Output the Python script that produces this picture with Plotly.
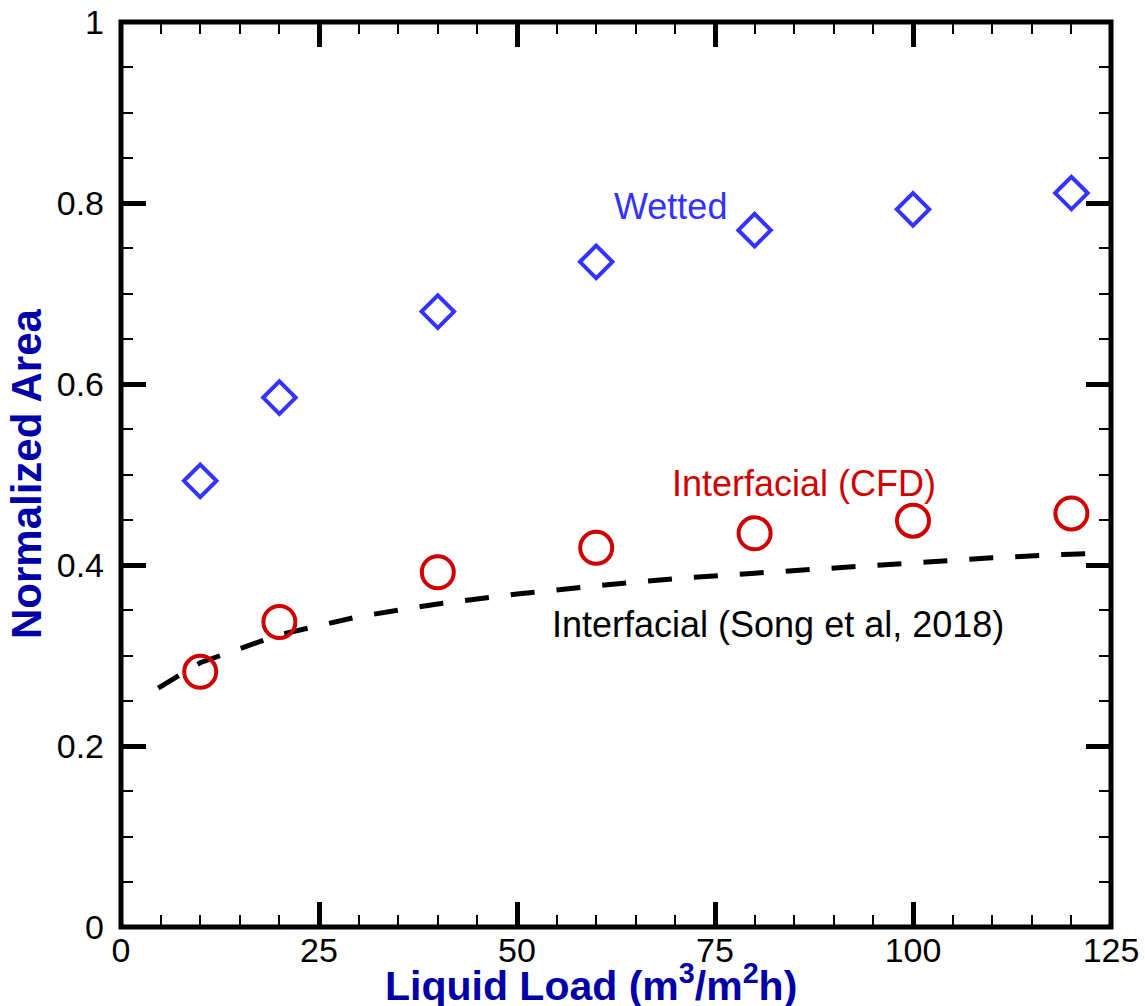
import plotly.graph_objects as go

# Data
liquid_load = [10, 20, 40, 60, 80, 100, 120]
wetted_area = [0.493, 0.585, 0.680, 0.735, 0.770, 0.793, 0.811]
interfacial_cfd = [0.282, 0.337, 0.392, 0.419, 0.435, 0.449, 0.457]

song_x = [4.7, 10, 20, 30, 40, 50, 60, 70, 80, 90, 100, 110, 120, 124.5]
song_y = [0.264, 0.292, 0.323, 0.343, 0.357, 0.368, 0.377, 0.385, 0.391, 0.397, 0.403, 0.408, 0.412, 0.413]

x_ticks = [0, 25, 50, 75, 100, 125]
y_ticks = [0, 0.2, 0.4, 0.6, 0.8, 1]
y_tick_text = ["0", "0.2", "0.4", "0.6", "0.8", "1"]

FONT = "Liberation Sans, Arial, sans-serif"
BLUE = "#3333FF"
RED = "#D00000"
TITLE = "#0000A8"

fig = go.Figure()

fig.add_trace(go.Scatter(
    x=song_x, y=song_y, mode="lines",
    line=dict(color="black", width=5, dash="24px,22px"),
    showlegend=False, hoverinfo="skip"))

fig.add_trace(go.Scatter(
    x=liquid_load, y=wetted_area, mode="markers",
    marker=dict(symbol="diamond-open", size=25, color=BLUE,
                line=dict(color=BLUE, width=4)),
    showlegend=False))

fig.add_trace(go.Scatter(
    x=liquid_load, y=interfacial_cfd, mode="markers",
    marker=dict(symbol="circle-open", size=32, color=RED,
                line=dict(color=RED, width=4)),
    showlegend=False))

W, H = 1145, 1006
L, T = 121, 22
R = W - 1111
B = H - 927

axis_common = dict(
    showgrid=False, zeroline=False, showline=False,
    ticks="inside", ticklen=25, tickwidth=5, tickcolor="black",
    mirror="ticks", ticklabeloverflow="allow",
    tickfont=dict(family=FONT, size=34, color="black"),
)

fig.update_xaxes(
    range=[0, 125], tickvals=x_ticks, ticktext=[str(v) for v in x_ticks],
    minor=dict(dtick=5, tick0=0, ticks="inside", ticklen=12, tickwidth=1.5, tickcolor="black"),
    **axis_common)
fig.update_yaxes(
    range=[0, 1], tickvals=y_ticks, ticktext=y_tick_text,
    ticklabelstandoff=16,
    minor=dict(dtick=0.05, tick0=0, ticks="inside", ticklen=12, tickwidth=1.5, tickcolor="black"),
    **axis_common)

pw = W - L - R
ph = H - T - B

def px_x(p):
    return (p - L) / pw

def px_y(p):
    return (H - B - p) / ph

annotations = [
    dict(text="Wetted", x=px_x(670), y=px_y(206), font=dict(family=FONT, size=36, color=BLUE)),
    dict(text="Interfacial (CFD)", x=px_x(804), y=px_y(483), font=dict(family=FONT, size=36, color=RED)),
    dict(text="Interfacial (Song et al, 2018)", x=px_x(778), y=px_y(624), font=dict(family=FONT, size=36, color="black")),
    dict(text="<b>Liquid Load (m<sup>3</sup>/m<sup>2</sup>h)</b>", x=px_x(591), y=px_y(983),
         font=dict(family=FONT, size=41, color=TITLE)),
    dict(text="<b>Normalized Area</b>", x=px_x(26), y=px_y(474), textangle=-90,
         font=dict(family=FONT, size=42, color=TITLE)),
]
for a in annotations:
    a.update(xref="paper", yref="paper", showarrow=False, xanchor="center", yanchor="middle")

fig.update_layout(
    width=W, height=H,
    margin=dict(l=L, r=R, t=T, b=B, autoexpand=False),
    paper_bgcolor="white", plot_bgcolor="white",
    annotations=annotations,
    shapes=[dict(type="rect", xref="paper", yref="paper", x0=0, y0=0, x1=1, y1=1,
                 line=dict(color="black", width=5), layer="above")],
)

fig.write_html("out.html",
               config={"displayModeBar": False},
               post_script="document.body.style.margin='0px';document.body.style.overflow='hidden';")
